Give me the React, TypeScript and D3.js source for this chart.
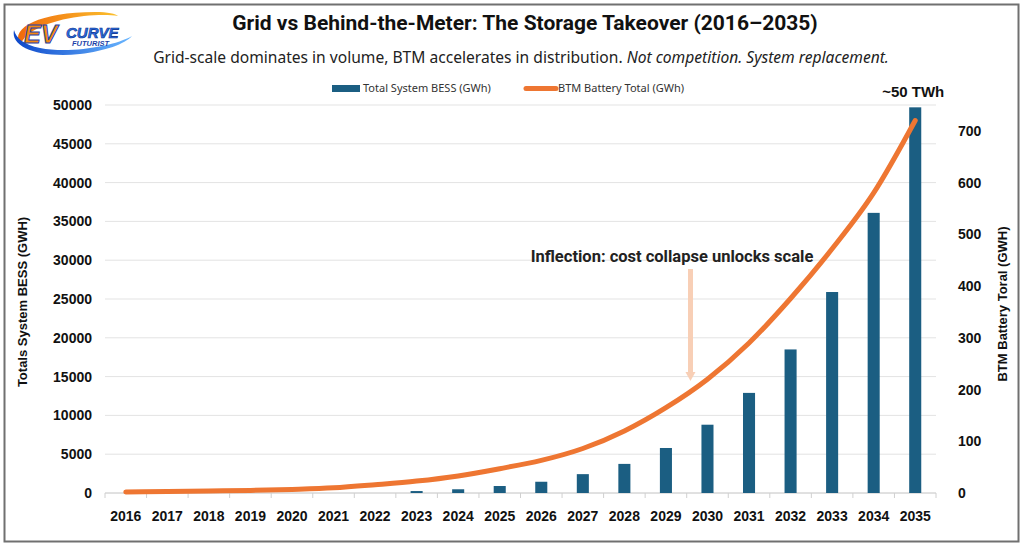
import React from 'react';
import * as d3 from 'd3';

// chart data
const years = ['2016', '2017', '2018', '2019', '2020', '2021', '2022', '2023', '2024', '2025',
  '2026', '2027', '2028', '2029', '2030', '2031', '2032', '2033', '2034', '2035'];
const totalBess = [0, 0, 0, 0, 0, 0, 0, 250, 480, 900, 1450, 2430, 3750, 5800, 8800, 12900, 18500, 25900, 36100, 49700];
const btmTotal = [2, 3, 4, 5, 7, 10, 16, 23, 33, 47, 63, 86, 120, 165, 220, 290, 376, 472, 580, 720];
const leftTicks = [0, 5000, 10000, 15000, 20000, 25000, 30000, 35000, 40000, 45000, 50000];
const rightTicks = [0, 100, 200, 300, 400, 500, 600, 700];

const W = 1024;
const H = 549;
const plot = { left: 105, right: 936, top: 105, bottom: 493 };
const barColor = '#1b5e82';
const lineColor = '#ee7632';
const tickFont = '"Liberation Sans", Arial, sans-serif';
const textFont = '"Noto Sans", sans-serif';

const App: React.FC = () => {
  const x = d3.scaleBand<string>().domain(years).range([plot.left, plot.right]).paddingInner(0.71).paddingOuter(0.355);
  const yL = d3.scaleLinear().domain([0, 50000]).range([plot.bottom, plot.top]);
  const yR = d3.scaleLinear().domain([0, 750]).range([plot.bottom, plot.top]);
  const cx = (y: string) => (x(y) as number) + x.bandwidth() / 2;
  const step = x.step();

  const line = d3.line<number>()
    .x((_, i) => cx(years[i]))
    .y(d => yR(d))
    .curve(d3.curveMonotoneX);

  const arrowX = cx('2030') - 17;

  return (
    <svg width={W} height={H} style={{ position: 'absolute', left: 0, top: 0, background: '#fff' }}>
      <rect x={4.5} y={4.5} width={1014} height={537} fill="#fff" stroke="#707070" strokeWidth={2} />

      {/* logo */}
      <g>
        <defs>
          <linearGradient id="orangeArc" x1="0" x2="1" y1="0" y2="0">
            <stop offset="0" stopColor="#f06a0c" />
            <stop offset="1" stopColor="#fbc02d" />
          </linearGradient>
          <linearGradient id="blueArc" x1="0" x2="1" y1="0" y2="0">
            <stop offset="0" stopColor="#0d47c9" />
            <stop offset="1" stopColor="#6ab7ff" />
          </linearGradient>
        </defs>
        <path d="M20,44 C10,28 40,12 95,12 C108,12 116,14 118,16 C100,13 50,16 26,36 Z" fill="url(#orangeArc)" />
        <path d="M14,30 C10,48 40,58 80,54 C105,51 125,44 132,36 C115,46 70,54 40,48 C24,45 16,38 14,30 Z" fill="url(#blueArc)" />
        <text x={24} y={43} fontFamily={tickFont} fontWeight={900} fontStyle="italic" fontSize={25} fill="#f58a10" stroke="#1a3fa8" strokeWidth={1}>EV</text>
        <text x={66} y={38} fontFamily={tickFont} fontWeight={900} fontStyle="italic" fontSize={15} fill="#2a6fe0" stroke="#0d2d8a" strokeWidth={0.6}>CURVE</text>
        <text x={72} y={46} fontFamily={tickFont} fontWeight={900} fontStyle="italic" fontSize={7.5} fill="#1a3fa8">FUTURIST</text>
      </g>

      {/* title */}
      <text x={525} y={30} textAnchor="middle" fontFamily="Roboto, sans-serif" fontWeight={700} fontSize={21} fill="#111">
        Grid vs Behind-the-Meter: The Storage Takeover (2016–2035)
      </text>
      <text x={521} y={63} textAnchor="middle" fontFamily={textFont} fontSize={15.6} fill="#222">
        Grid-scale dominates in volume, BTM accelerates in distribution. <tspan fontStyle="italic">Not competition. System replacement.</tspan>
      </text>

      {/* legend */}
      <g fontFamily={textFont} fontSize={11} fill="#333">
        <rect x={332} y={85} width={28} height={7} fill={barColor} />
        <text x={363} y={92}>Total System BESS (GWh)</text>
        <line x1={526} x2={556} y1={88.5} y2={88.5} stroke={lineColor} strokeWidth={5} strokeLinecap="round" />
        <text x={558} y={92}>BTM Battery Total (GWh)</text>
      </g>

      {/* grid */}
      {leftTicks.map(t => (
        <line key={t} x1={plot.left} x2={plot.right} y1={yL(t)} y2={yL(t)} stroke="#e3e3e3" strokeWidth={1} />
      ))}
      <line x1={plot.left} x2={plot.right} y1={plot.bottom} y2={plot.bottom} stroke="#d0d0d0" strokeWidth={1} />
      {years.map(y => (
        <line key={y} x1={(x(y) as number) - (step - x.bandwidth()) / 2} x2={(x(y) as number) - (step - x.bandwidth()) / 2}
          y1={plot.bottom} y2={plot.bottom + 5} stroke="#d0d0d0" />
      ))}
      <line x1={plot.right} x2={plot.right} y1={plot.bottom} y2={plot.bottom + 5} stroke="#d0d0d0" />

      {/* bars */}
      {totalBess.map((v, i) => (
        <rect key={years[i]} x={x(years[i])} y={yL(v)} width={x.bandwidth()} height={plot.bottom - yL(v)} fill={barColor} />
      ))}

      {/* line */}
      <path d={line(btmTotal) || ''} fill="none" stroke={lineColor} strokeWidth={5} strokeLinecap="round" strokeLinejoin="round" />

      {/* axes labels */}
      <g fontFamily={tickFont} fontWeight={700} fontSize={14} fill="#111">
        {leftTicks.map(t => (
          <text key={t} x={92} y={yL(t) + 5} textAnchor="end">{t}</text>
        ))}
        {rightTicks.map(t => (
          <text key={t} x={958} y={yR(t) + 5}>{t}</text>
        ))}
        {years.map(y => (
          <text key={y} x={cx(y)} y={521} textAnchor="middle">{y}</text>
        ))}
      </g>
      <text transform={`translate(27,${(plot.top + plot.bottom) / 2 + 3}) rotate(-90)`} textAnchor="middle"
        fontFamily={tickFont} fontWeight={700} fontSize={13} fill="#111">Totals System BESS (GWH)</text>
      <text transform={`translate(1007,${(plot.top + plot.bottom) / 2 + 5}) rotate(-90)`} textAnchor="middle"
        fontFamily={tickFont} fontWeight={700} fontSize={13} fill="#111">BTM Battery Toral (GWH)</text>

      {/* annotations */}
      <text x={cx('2035') - 2} y={97} textAnchor="middle" fontFamily={tickFont} fontWeight={700} fontSize={15} fill="#111">~50 TWh</text>
      <text x={672} y={262} textAnchor="middle" fontFamily="Roboto, sans-serif" fontWeight={700} fontSize={16.5} fill="#222">
        Inflection: cost collapse unlocks scale
      </text>
      <line x1={arrowX} x2={arrowX} y1={269} y2={375} stroke="#f8cfb6" strokeWidth={5} />
      <path d={`M${arrowX - 5},${372} L${arrowX + 5},${372} L${arrowX},${381} Z`} fill="#f8cfb6" />
    </svg>
  );
};

export default App;
